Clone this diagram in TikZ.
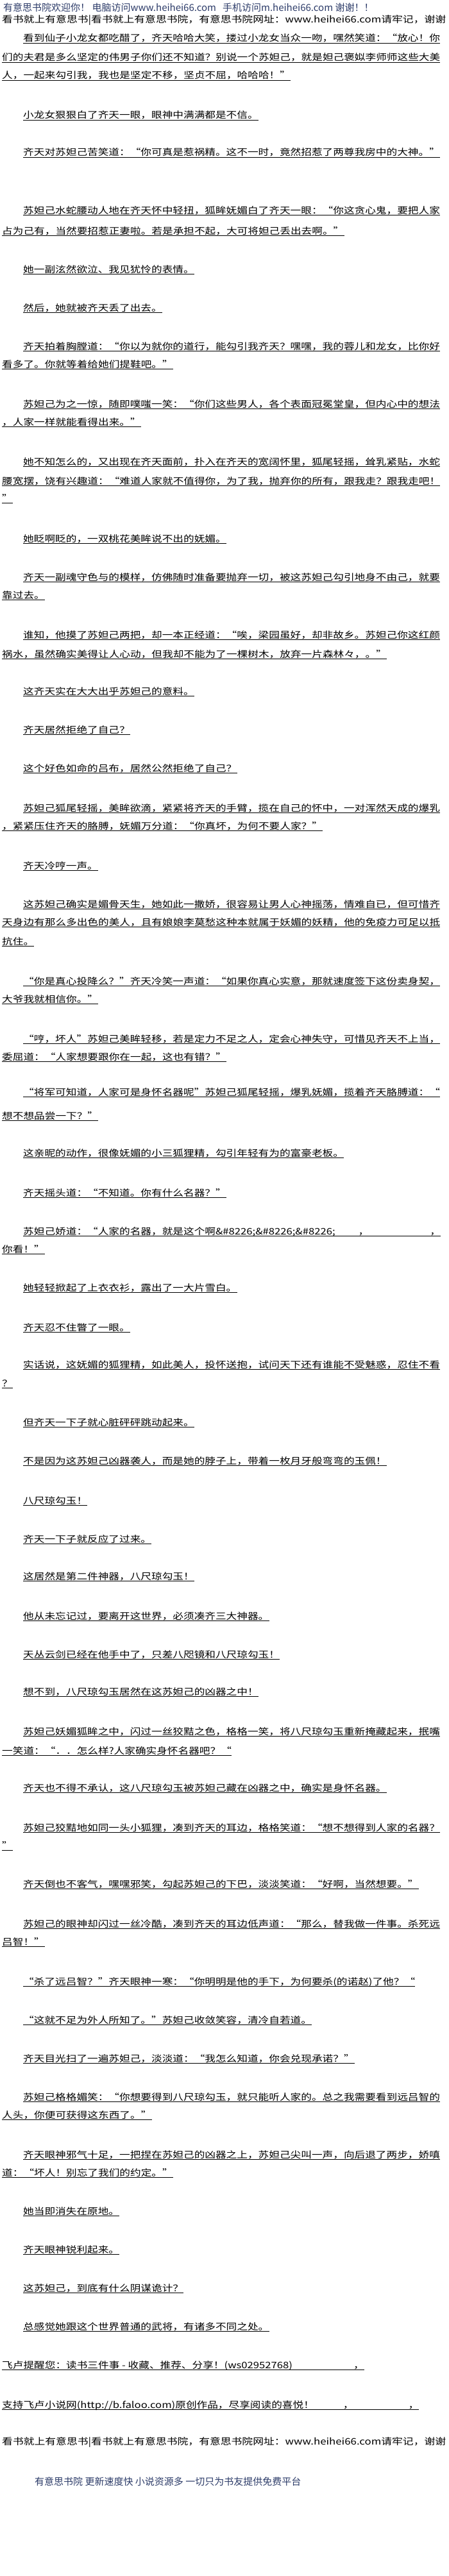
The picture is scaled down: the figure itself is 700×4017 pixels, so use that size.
\documentclass[tikz,border=0pt]{standalone}
\usepackage{fontspec}
\usepackage{graphicx}
\newfontfamily\bodyfont[FakeStretch=1.19]{Noto Sans CJK SC}
\newfontfamily\headfont{Noto Sans CJK SC}
\definecolor{headblue}{RGB}{45,60,105}
\tikzset{
 txt/.style={anchor=base west, inner sep=0pt, font=\bodyfont\fontsize{14}{14}\selectfont, text=black},
 bigtxt/.style={anchor=base west, inner sep=0pt, font=\bodyfont\fontsize{14.5}{14.5}\selectfont, text=black},
 head/.style={anchor=base west, inner sep=0pt, font=\headfont\fontsize{15}{15}\selectfont, text=headblue},
 uline/.style={draw=black, line width=0.8pt}
}
\newcommand\tline[4]{\node[txt] (#1) at (#2,{-(#3)-5}) {#4};
 \draw[uline] ([yshift=-2pt]#1.base west) -- ([yshift=-2pt]#1.base east);}
\newcommand\sitetext{\resizebox{692pt}{!}{看书就上有意思书|看书就上有意思书院，有意思书院网址：www.heihei66.com请牢记，谢谢}}
\begin{document}
\begin{tikzpicture}[x=1pt,y=1pt]
\fill[white] (0,0) rectangle (700,-4017);
\useasboundingbox (0,0) rectangle (700,-4017);
\begin{scope}
\clip (0,0) rectangle (700,-4017);
\node[head] (h1) at (5,-18) {有意思书院欢迎你！ 电脑访问www.heihei66.com\hspace{10pt}手机访问m.heihei66.com 谢谢！！};
\node[bigtxt] (h2) at (3,-36) {\sitetext};

\tline{p1a}{36}{60}{看到仙子小龙女都吃醋了，齐天哈哈大笑，搂过小龙女当众一吻，嘿然笑道：“放心！你}
\tline{p1b}{3}{90}{们的夫君是多么坚定的伟男子你们还不知道？别说一个苏妲己，就是妲己褒姒李师师这些大美}
\tline{p1c}{3}{118}{人，一起来勾引我，我也是坚定不移，坚贞不屈，哈哈哈！”}
\tline{p2}{36}{180}{小龙女狠狠白了齐天一眼，眼神中满满都是不信。}
\tline{p3}{36}{238}{齐天对苏妲己苦笑道：“你可真是惹祸精。这不一时，竟然招惹了两尊我房中的大神。”}
\tline{p4a}{36}{328}{苏妲己水蛇腰动人地在齐天怀中轻扭，狐眸妩媚白了齐天一眼：“你这贪心鬼，要把人家}
\tline{p4b}{3}{360}{占为己有，当然要招惹正妻啦。若是承担不起，大可将妲己丢出去啊。”}
\tline{p5}{36}{420}{她一副泫然欲泣、我见犹怜的表情。}
\tline{p6}{36}{480}{然后，她就被齐天丢了出去。}
\tline{p7a}{36}{540}{齐天拍着胸膛道：“你以为就你的道行，能勾引我齐天？嘿嘿，我的蓉儿和龙女，比你好}
\tline{p7b}{3}{568}{看多了。你就等着给她们提鞋吧。”}
\tline{p8a}{36}{630}{苏妲己为之一惊，随即噗嗤一笑：“你们这些男人，各个表面冠冕堂皇，但内心中的想法}
\tline{p8b}{3}{658}{，人家一样就能看得出来。”}
\tline{p9a}{36}{720}{她不知怎么的，又出现在齐天面前，扑入在齐天的宽阔怀里，狐尾轻摇，耸乳紧贴，水蛇}
\tline{p9b}{3}{750}{腰宽摆，饶有兴趣道：“难道人家就不值得你，为了我，抛弃你的所有，跟我走？跟我走吧！}
\tline{p9c}{3}{777}{”}
\tline{p10}{36}{840}{她眨啊眨的，一双桃花美眸说不出的妩媚。}
\tline{p11a}{36}{900}{齐天一副魂守色与的模样，仿佛随时准备要抛弃一切，被这苏妲己勾引地身不由己，就要}
\tline{p11b}{3}{928}{靠过去。}
\tline{p12a}{36}{990}{谁知，他摸了苏妲己两把，却一本正经道：“唉，梁园虽好，却非故乡。苏妲己你这红颜}
\tline{p12b}{3}{1020}{祸水，虽然确实美得让人心动，但我却不能为了一棵树木，放弃一片森林々，。”}
\tline{p13}{36}{1078}{这齐天实在大大出乎苏妲己的意料。}
\tline{p14}{36}{1138}{齐天居然拒绝了自己？}
\tline{p15}{36}{1198}{这个好色如命的吕布，居然公然拒绝了自己？}
\tline{p16a}{36}{1260}{苏妲己狐尾轻摇，美眸欲滴，紧紧将齐天的手臂，揽在自己的怀中，一对浑然天成的爆乳}
\tline{p16b}{3}{1288}{，紧紧压住齐天的胳膊，妩媚万分道：“你真坏，为何不要人家？”}
\tline{p17}{36}{1350}{齐天冷哼一声。}
\tline{p18a}{36}{1410}{这苏妲己确实是媚骨天生，她如此一撒娇，很容易让男人心神摇荡，情难自已，但可惜齐}
\tline{p18b}{3}{1438}{天身边有那么多出色的美人，且有娘娘李莫愁这种本就属于妖媚的妖精，他的免疫力可足以抵}
\tline{p18c}{3}{1468}{抗住。}
\tline{p19a}{36}{1530}{“你是真心投降么？”齐天冷笑一声道：“如果你真心实意，那就速度签下这份卖身契，}
\tline{p19b}{3}{1558}{大爷我就相信你。”}
\tline{p20a}{36}{1620}{“哼，坏人”苏妲己美眸轻移，若是定力不足之人，定会心神失守，可惜见齐天不上当，}
\tline{p20b}{3}{1648}{委屈道：“人家想要跟你在一起，这也有错？”}
\tline{p21a}{36}{1703}{“将军可知道，人家可是身怀名器呢”苏妲己狐尾轻摇，爆乳妩媚，揽着齐天胳膊道：“}
\tline{p21b}{3}{1740}{想不想品尝一下？”}
\tline{p22}{36}{1798}{这亲昵的动作，很像妩媚的小三狐狸精，勾引年轻有为的富豪老板。}
\tline{p23}{36}{1860}{齐天摇头道：“不知道。你有什么名器？”}
\tline{p24a}{36}{1920}{苏妲己娇道：“人家的名器，就是这个啊\&\#8226;\&\#8226;\&\#8226;\hspace{36pt}，\hspace{95pt}，}
\tline{p24b}{3}{1948}{你看！”}
\tline{p25}{36}{2008}{她轻轻掀起了上衣衣衫，露出了一大片雪白。}
\tline{p26}{36}{2070}{齐天忍不住瞥了一眼。}
\tline{p27a}{36}{2128}{实话说，这妩媚的狐狸精，如此美人，投怀送抱，试问天下还有谁能不受魅惑，忍住不看}
\tline{p27b}{3}{2157}{？}
\tline{p28}{36}{2218}{但齐天一下子就心脏砰砰跳动起来。}
\tline{p29}{36}{2278}{不是因为这苏妲己凶器袭人，而是她的脖子上，带着一枚月牙般弯弯的玉佩！}
\tline{p30}{36}{2340}{八尺琼勾玉！}
\tline{p31}{36}{2400}{齐天一下子就反应了过来。}
\tline{p32}{36}{2458}{这居然是第二件神器，八尺琼勾玉！}
\tline{p33}{36}{2520}{他从未忘记过，要离开这世界，必须凑齐三大神器。}
\tline{p34}{36}{2580}{天丛云剑已经在他手中了，只差八咫镜和八尺琼勾玉！}
\tline{p35}{36}{2638}{想不到，八尺琼勾玉居然在这苏妲己的凶器之中！}
\tline{p36a}{36}{2700}{苏妲己妖媚狐眸之中，闪过一丝狡黠之色，格格一笑，将八尺琼勾玉重新掩藏起来，抿嘴}
\tline{p36b}{3}{2730}{一笑道：“．．怎么样?人家确实身怀名器吧？“}
\tline{p37}{36}{2788}{齐天也不得不承认，这八尺琼勾玉被苏妲己藏在凶器之中，确实是身怀名器。}
\tline{p38a}{36}{2850}{苏妲己狡黠地如同一头小狐狸，凑到齐天的耳边，格格笑道：“想不想得到人家的名器？}
\tline{p38b}{3}{2878}{”}
\tline{p39}{36}{2938}{齐天倒也不客气，嘿嘿邪笑，勾起苏妲己的下巴，淡淡笑道：“好啊，当然想要。”}
\tline{p40a}{36}{3000}{苏妲己的眼神却闪过一丝冷酷，凑到齐天的耳边低声道：“那么，替我做一件事。杀死远}
\tline{p40b}{3}{3028}{吕智！”}
\tline{p41}{36}{3090}{“杀了远吕智？”齐天眼神一寒：“你明明是他的手下，为何要杀(的诺赵)了他？“}
\tline{p42}{36}{3150}{“这就不足为外人所知了。”苏妲己收敛笑容，清冷自若道。}
\tline{p43}{36}{3210}{齐天目光扫了一遍苏妲己，淡淡道：“我怎么知道，你会兑现承诺？”}
\tline{p44a}{36}{3270}{苏妲己格格媚笑：“你想要得到八尺琼勾玉，就只能听人家的。总之我需要看到远吕智的}
\tline{p44b}{3}{3298}{人头，你便可获得这东西了。”}
\tline{p45a}{36}{3360}{齐天眼神邪气十足，一把捏在苏妲己的凶器之上，苏妲己尖叫一声，向后退了两步，娇嗔}
\tline{p45b}{3}{3388}{道：“坏人！别忘了我们的约定。”}
\tline{p46}{36}{3448}{她当即消失在原地。}
\tline{p47}{36}{3508}{齐天眼神锐利起来。}
\tline{p48}{36}{3568}{这苏妲己，到底有什么阴谋诡计？}
\tline{p49}{36}{3628}{总感觉她跟这个世界普通的武将，有诸多不同之处。\hspace{10pt}}
\tline{f1}{3}{3688}{飞卢提醒您：读书三件事 - 收藏、推荐、分享！(ws02952768)\hspace{95pt}，}
\tline{f2}{3}{3750}{支持飞卢小说网(http://b.faloo.com)原创作品，尽享阅读的喜悦！\hspace{45pt}，\hspace{85pt}，}
\node[bigtxt] (h3) at (3,-3812) {\sitetext};
\node[head] (h4) at (54,-3875) {有意思书院 更新速度快 小说资源多 一切只为书友提供免费平台};
\end{scope}
\end{tikzpicture}
\end{document}
